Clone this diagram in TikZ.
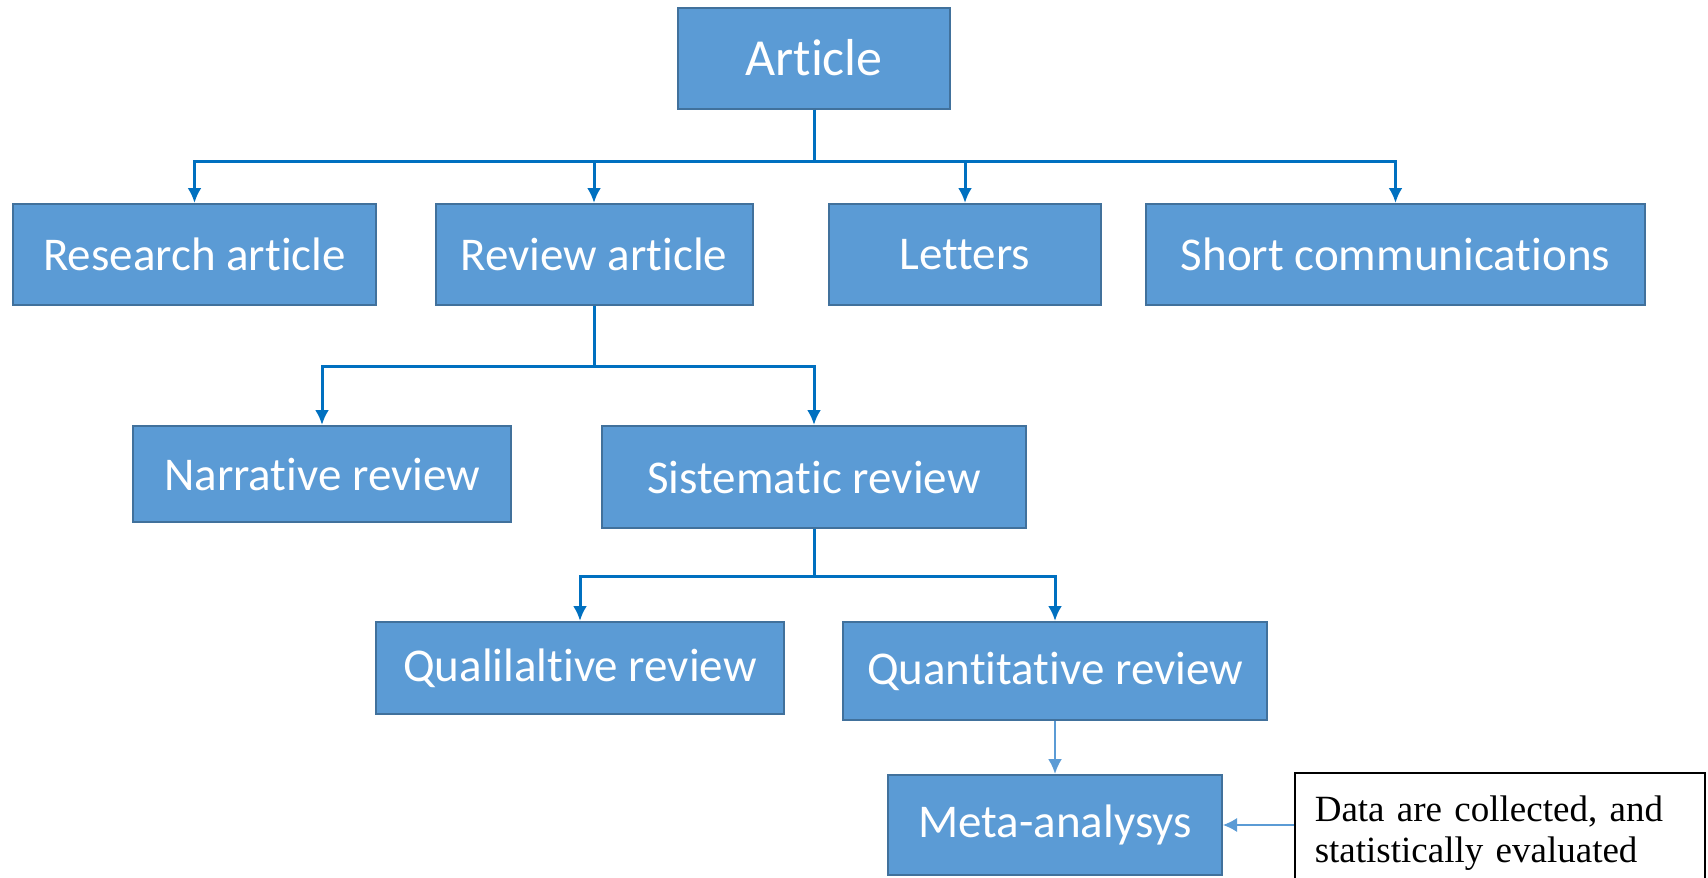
\documentclass[tikz,border=0pt]{standalone}
\usepackage{fontspec}
\setmainfont{Carlito}[Ligatures=NoCommon]
\newfontfamily\notefont{Liberation Serif}
\usepackage{tikz}
\definecolor{boxfill}{HTML}{5B9BD5}
\definecolor{boxline}{HTML}{41719C}
\definecolor{linkblue}{HTML}{0070C0}
\tikzstyle{catbox} = [rectangle, draw=boxline, fill=boxfill, line width=1pt,
    text=white, inner sep=0pt, font=\fontsize{23.5}{28}\selectfont]
\tikzstyle{remark} = [rectangle, draw=black, line width=0.8pt, text width=185pt,
    align=left, inner xsep=10pt, font=\notefont\fontsize{18.5}{20.5}\selectfont]
\tikzstyle{link} = [draw=linkblue, line width=1.5pt, -{Latex[length=7.5pt,width=7pt]}]
\usetikzlibrary{arrows.meta}
\usetikzlibrary{positioning}

\begin{document}
\begin{tikzpicture}[x=0.5pt,y=-0.5pt]
    \useasboundingbox (0,0) rectangle (1708,878);
    \clip (0,0) rectangle (1708,878);

    \node[catbox, minimum width=136pt, minimum height=50.5pt, font=\fontsize{26}{30}\selectfont] (article) at (814,58) {Article};

    \node[catbox, minimum width=181.5pt, minimum height=50.5pt] (research) at (194.5,254.5) {Research article};
    \node[catbox, minimum width=158.5pt, minimum height=50.5pt] (review) at (594,254.5) {Review article};
    \node[catbox, minimum width=136pt, minimum height=50.5pt] (letters) at (965,254.5) {Letters};
    \node[catbox, minimum width=249.5pt, minimum height=50.5pt] (short) at (1395.5,254.5) {Short communications};

    \foreach \n in {research,review,letters,short}
        \draw[link] (article.south) -- ++(0,52) -| (\n.north);

    \node[catbox, minimum width=189pt, minimum height=48pt] (narrative) at (322,474) {Narrative review};
    \node[catbox, minimum width=212pt, minimum height=51pt] (sistematic) at (814,477) {Sistematic review};

    \draw[link] (review.south) -- ++(0,60) -| (narrative.north);
    \draw[link] (review.south) -- ++(0,60) -| (sistematic.north);

    \node[catbox, minimum width=204pt, minimum height=46pt] (qualitative) at (580,668) {Qualilaltive review};
    \node[catbox, minimum width=212pt, minimum height=49pt] (quantitative) at (1055,671) {Quantitative review};

    \draw[link] (sistematic.south) -- ++(0,47) -| (qualitative.north);
    \draw[link] (sistematic.south) -- ++(0,47) -| (quantitative.north);

    \node[catbox, minimum width=167pt, minimum height=50pt, below=26.5pt of quantitative] (meta) {Meta-analysys};
    \draw[link, draw=boxfill, line width=1.2pt] (quantitative) -- (meta);

    \node[remark, minimum height=60pt, right=35.5pt of meta, yshift=-4pt] (note) {Data are collected, and\\statistically evaluated};
    \draw[draw=boxfill, line width=0.6pt, -{Latex[length=7pt,width=7pt]}] (note.west |- meta.east) -- (meta.east);
\end{tikzpicture}
\end{document}
